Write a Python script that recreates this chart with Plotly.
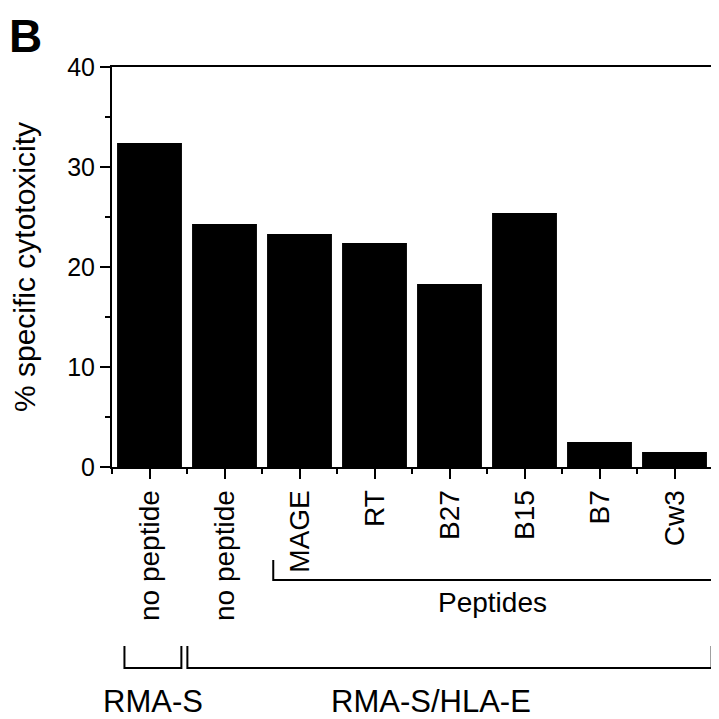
import plotly.graph_objects as go

categories = ["no peptide", "no peptide", "MAGE", "RT", "B27", "B15", "B7", "Cw3"]
cytotoxicity = [32.4, 24.3, 23.3, 22.4, 18.3, 25.4, 2.5, 1.5]
y_ticks = [0, 10, 20, 30, 40]

panel_letter = "B"
y_title = "% specific cytotoxicity"
peptide_group = "Peptides"
cell_groups = ["RMA-S", "RMA-S/HLA-E"]

FONT = "Liberation Sans, Arial, Helvetica, sans-serif"
x_idx = list(range(len(categories)))

# The page body has an 8px margin, so the figure is 711x711 drawn at (8, 8).
fig = go.Figure()
fig.add_trace(go.Bar(
    x=x_idx, y=cytotoxicity, width=0.865,
    marker=dict(color="black", line=dict(width=0)),
    showlegend=False, hoverinfo="x+y",
))

fig.update_layout(
    width=711, height=711, autosize=False,
    margin=dict(l=103.5, r=6.5, t=59, b=252, pad=0),
    paper_bgcolor="white", plot_bgcolor="white",
    font=dict(family=FONT, color="black", size=24),
)
fig.update_xaxes(
    range=[-0.5, 7.5], tickmode="array", tickvals=x_idx, ticktext=categories,
    tickangle=-90, tickfont=dict(size=28),
    ticks="outside", ticklen=10, tickwidth=2, tickcolor="black",
    minor=dict(tickmode="linear", tick0=-0.5, dtick=1, ticks="outside", ticklen=5, tickwidth=2, tickcolor="black"),
    showline=True, linecolor="black", linewidth=2, mirror=True,
    showgrid=False, zeroline=False, automargin=False, fixedrange=True,
)
fig.update_yaxes(
    range=[0, 40], tickmode="array", tickvals=y_ticks,
    tickfont=dict(size=25),
    ticks="outside", ticklen=10, tickwidth=2, tickcolor="black",
    minor=dict(tickmode="linear", tick0=5, dtick=10, ticks="outside", ticklen=5, tickwidth=2, tickcolor="black"),
    showline=True, linecolor="black", linewidth=2, mirror=True,
    showgrid=False, zeroline=False, automargin=False, fixedrange=True,
    title=dict(text=y_title, font=dict(size=30), standoff=50),
)

def ypix(p):
    # p: pixel row in the page; plot spans rows 67 (40) to 467 (0)
    return (467 - p) / 400.0

line = dict(color="black", width=2)
# Peptides bracket
fig.add_shape(type="path", xref="x", yref="paper",
              path=f"M 1.65 {ypix(560)} L 1.65 {ypix(580)} L 7.52 {ypix(580)} L 7.52 {ypix(560)}",
              line=line)
fig.add_annotation(x=4.57, y=ypix(602), xref="x", yref="paper", text=peptide_group,
                   showarrow=False, font=dict(size=28), xanchor="center", yanchor="middle")
# RMA-S bracket
fig.add_shape(type="path", xref="x", yref="paper",
              path=f"M -0.334 {ypix(646)} L -0.334 {ypix(668)} L 0.425 {ypix(668)} L 0.425 {ypix(646)}",
              line=line)
# RMA-S/HLA-E bracket
fig.add_shape(type="path", xref="x", yref="paper",
              path=f"M 0.505 {ypix(646)} L 0.505 {ypix(668)} L 7.495 {ypix(668)} L 7.495 {ypix(646)}",
              line=line)
fig.add_annotation(x=0.04, y=ypix(701), xref="x", yref="paper", text=cell_groups[0],
                   showarrow=False, font=dict(size=31), xanchor="center", yanchor="middle")
fig.add_annotation(x=3.75, y=ypix(701), xref="x", yref="paper", text=cell_groups[1],
                   showarrow=False, font=dict(size=31), xanchor="center", yanchor="middle")
# Panel letter
fig.add_annotation(x=0, y=1, xref="paper", yref="paper", text=f"<b>{panel_letter}</b>",
                   showarrow=False, font=dict(size=46), xanchor="left", yanchor="top",
                   xshift=-105, yshift=59)

fig.write_html("out.html")
